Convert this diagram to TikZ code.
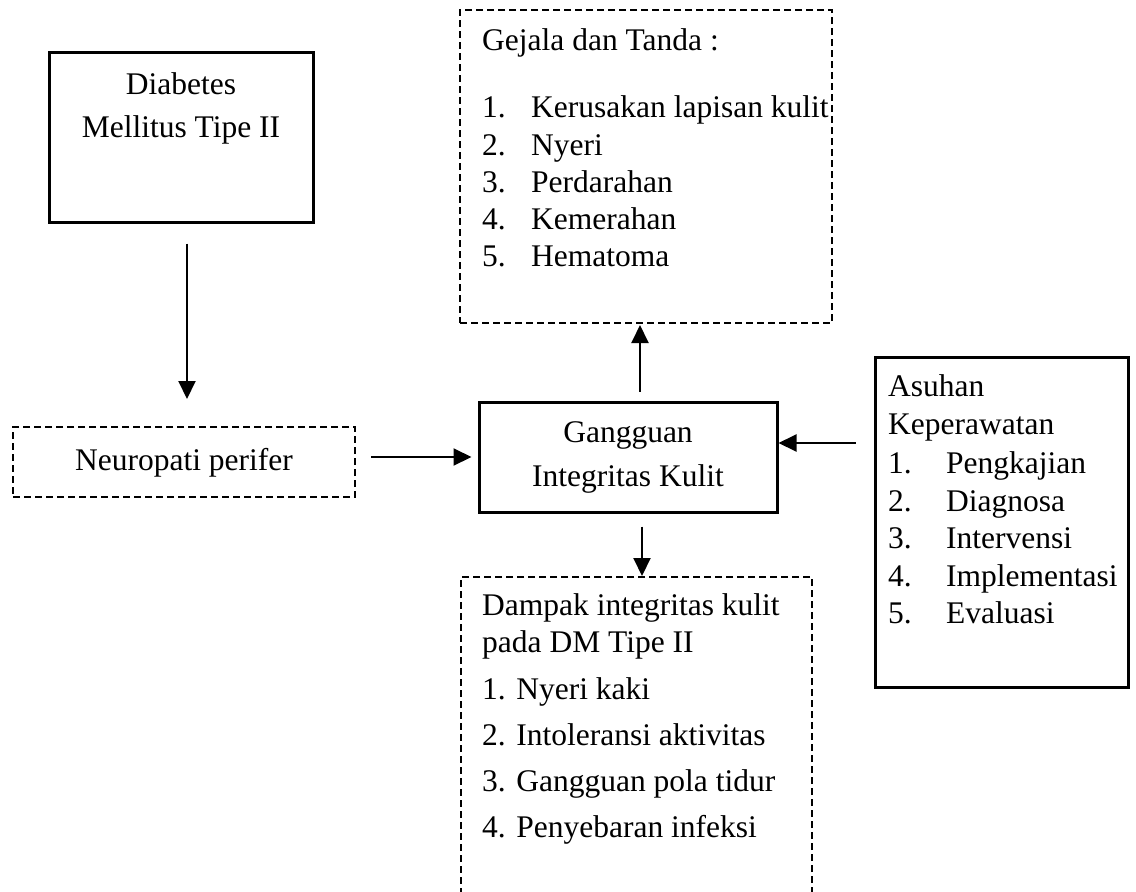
\documentclass[tikz,border=0pt]{standalone}
\usepackage{fontspec}
\setmainfont{Liberation Serif}
\usetikzlibrary{arrows.meta,calc}
\tikzset{
  solidbox/.style={draw, line width=3pt, inner sep=0pt},
  dashbox/.style={draw, line width=2pt, dash pattern=on 7pt off 4pt, inner sep=0pt},
  arr/.style={line width=2pt, -{Triangle[width=17pt,length=18pt]}},
  txt/.style={font=\fontsize{31.5}{36}\selectfont, anchor=base west, inner sep=0pt},
  ctxt/.style={font=\fontsize{31.5}{36}\selectfont, anchor=base, inner sep=0pt}
}
\begin{document}
\begin{tikzpicture}[x=1pt,y=-1pt]
\clip (0,0) rectangle (1136,892);
\fill[white] (0,0) rectangle (1136,892);
% boxes
\node[solidbox, minimum width=264pt, minimum height=170pt] (dm) at (181,137) {};
\node[dashbox, minimum width=342pt, minimum height=70pt] (np) at (184,462) {};
\node[solidbox, minimum width=298pt, minimum height=110pt] (gik) at (628,457) {};
\node[dashbox, minimum width=372pt, minimum height=313pt] (gej) at (646,166.5) {};
\node[dashbox, minimum width=351pt, minimum height=373pt] (dam) at (636.5,763.5) {};
\node[solidbox, minimum width=253pt, minimum height=330pt] (asu) at (1001.5,522) {};
% texts
\node[ctxt] (t1) at (181,94) {Diabetes};
\node[ctxt] (t2) at (181,137) {Mellitus Tipe II};
\node[ctxt] (t3) at (184,470) {Neuropati perifer};
\node[ctxt] (t4) at (628,442) {Gangguan};
\node[ctxt] (t5) at (628,486) {Integritas Kulit};
\node[txt] (g0) at (482,50) {Gejala dan Tanda :};
\node[txt] (g1n) at (482,117) {1.};
\node[txt] (g1) at (531,117) {Kerusakan lapisan kulit};
\node[txt] (g2n) at (482,155) {2.};
\node[txt] (g2) at (531,155) {Nyeri};
\node[txt] (g3n) at (482,192) {3.};
\node[txt] (g3) at (531,192) {Perdarahan};
\node[txt] (g4n) at (482,229) {4.};
\node[txt] (g4) at (531,229) {Kemerahan};
\node[txt] (g5n) at (482,266) {5.};
\node[txt] (g5) at (531,266) {Hematoma};
\node[txt] (d0) at (482,615) {Dampak integritas kulit};
\node[txt] (d00) at (482,652) {pada DM Tipe II};
\node[txt] (d1) at (482,699) {1. Nyeri kaki};
\node[txt] (d2) at (482,745) {2. Intoleransi aktivitas};
\node[txt] (d3) at (482,791) {3. Gangguan pola tidur};
\node[txt] (d4) at (482,837) {4. Penyebaran infeksi};
\node[txt] (a0) at (888,396) {Asuhan};
\node[txt] (a00) at (888,434) {Keperawatan};
\node[txt] (a1n) at (888,473) {1.};
\node[txt] (a1) at (946,473) {Pengkajian};
\node[txt] (a2n) at (888,511) {2.};
\node[txt] (a2) at (946,511) {Diagnosa};
\node[txt] (a3n) at (888,548) {3.};
\node[txt] (a3) at (946,548) {Intervensi};
\node[txt] (a4n) at (888,586) {4.};
\node[txt] (a4) at (946,586) {Implementasi};
\node[txt] (a5n) at (888,623) {5.};
\node[txt] (a5) at (946,623) {Evaluasi};
% connectors
\draw[arr] ($(dm.south)+(6,20)$) -- ($(dm.south |- np.north)+(6,-27)$);
\draw[arr] ($(np.east)+(15,-5)$) -- ($(gik.west)+(-6,0)$);
\draw[arr] ($(gik.north)+(12,-9)$) -- ($(gik.north |- gej.south)+(12,1)$);
\draw[arr] ($(gik.south)+(14,13)$) -- ($(gik.south |- dam.north)+(14,0)$);
\draw[arr] ($(asu.west |- gik.east)+(-18,-14)$) -- ($(gik.east)+(0,-14)$);
\end{tikzpicture}
\end{document}
